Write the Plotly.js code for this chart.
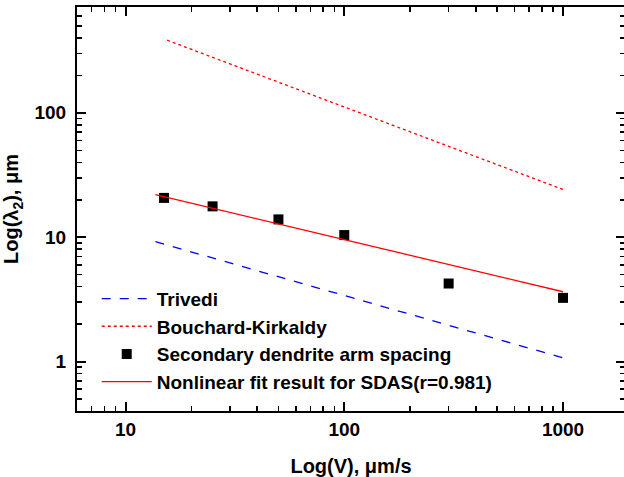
<!DOCTYPE html>
<html>
<head>
<meta charset="utf-8">
<script src="https://cdn.plot.ly/plotly-3.0.1.min.js"></script>
<style>html,body{margin:0;padding:0;overflow:hidden;background:#fff;}</style>
</head>
<body>
<div id="chart"></div>
<script>
// Data
const sdasV = [15, 25, 50, 100, 300, 1000];
const sdasL = [20.7, 17.7, 13.9, 10.4, 4.24, 3.25];
const fitV = [13.7, 1000];
const fitL = [22.0, 3.64];
const trivediV = [13.7, 1000];
const trivediL = [9.2, 1.07];
const bkV = [15.5, 1000];
const bkL = [384, 24.2];
const xTickVals = [10, 100, 1000];
const xTickText = ['10', '100', '1000'];
const yTickVals = [1, 10, 100];
const yTickText = ['1', '10', '100'];

const FONT = {family: 'Liberation Sans, Arial, sans-serif', weight: 'bold', color: '#000'};

const traces = [
  {x: trivediV, y: trivediL, mode: 'lines', name: 'Trivedi',
   line: {color: '#0000ff', dash: 'dash', width: 1.3}},
  {x: bkV, y: bkL, mode: 'lines', name: 'Bouchard-Kirkaldy',
   line: {color: '#ff0000', dash: 'dot', width: 1.3}},
  {x: sdasV, y: sdasL, mode: 'markers', name: 'Secondary dendrite arm spacing',
   marker: {symbol: 'square', size: 10, color: '#000'}},
  {x: fitV, y: fitL, mode: 'lines', name: 'Nonlinear fit result for SDAS(r=0.981)',
   line: {color: '#ff0000', width: 1.3}}
];

const axisCommon = {
  type: 'log', showgrid: false, zeroline: false,
  showline: true, linecolor: '#000', linewidth: 2, mirror: 'allticks',
  ticks: 'inside', ticklen: 9, tickwidth: 2, tickcolor: '#000',
  tickfont: Object.assign({size: 19}, FONT),
  tickmode: 'array',
  minor: {ticks: 'inside', ticklen: 5, tickwidth: 1.5, tickcolor: '#000', dtick: 'D1', showgrid: false}
};

const layout = {
  width: 630, height: 477,
  margin: {l: 77, r: 5, t: 7, b: 66},
  paper_bgcolor: '#fff', plot_bgcolor: '#fff',
  font: FONT,
  showlegend: true,
  legend: {x: 0.036, y: 0.325, xanchor: 'left', yanchor: 'top', bgcolor: 'rgba(0,0,0,0)',
           font: Object.assign({size: 19}, FONT), itemwidth: 50, tracegroupgap: 0},
  xaxis: Object.assign({}, axisCommon, {
    range: [Math.log10(6), Math.log10(1920)],
    tickvals: xTickVals, ticktext: xTickText,
    title: {text: 'Log(V), μm/s', font: Object.assign({size: 20}, FONT), standoff: 20}
  }),
  yaxis: Object.assign({}, axisCommon, {
    range: [Math.log10(0.4), Math.log10(710)],
    tickvals: yTickVals, ticktext: yTickText,
    ticklabelstandoff: 5,
    title: {text: 'Log(λ<sub>2</sub>), μm', font: Object.assign({size: 20}, FONT), standoff: 10}
  })
};

Plotly.newPlot('chart', traces, layout, {displayModeBar: false, staticPlot: true});
</script>
</body>
</html>
